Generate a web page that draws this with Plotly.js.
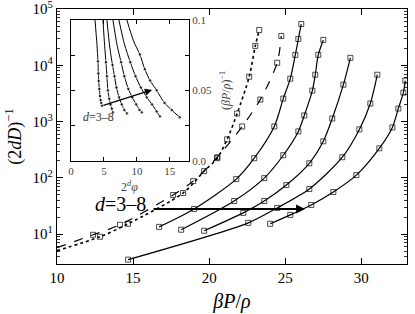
<!DOCTYPE html>
<html><head><meta charset="utf-8">
<script src="https://cdn.plot.ly/plotly-3.0.1.min.js"></script>
<style>html,body{margin:0;padding:0;background:#fff}#chart{width:415px;height:314px}</style>
</head><body><div id="chart"></div>
<script>
// ---- main panel: (2dD)^-1 vs betaP/rho ----
const d3DotX  = [10, 12.83, 14.67, 18.29, 19.67, 20.53, 21.18, 21.84, 22.63, 23.03, 23.29];
const d3DotY  = [5.1, 9.0, 15.3, 53.9, 132, 224, 485, 1396, 6290, 22200, 42600];
const d3DashX = [10, 12.37, 14.14, 17.63, 18.95, 20.53, 22.17, 23.36, 24.47, 24.74];
const d3DashY = [5.75, 9.75, 14.7, 49.7, 87.8, 233, 822, 2467, 11120, 33340];
const d4X = [16.71, 19.01, 21.78, 22.96, 24.28, 24.87, 25.33, 25.66, 25.86, 26.05];
const d4Y = [13.5, 28.1, 95.3, 224, 822, 2570, 5800, 15390, 29500, 54300];
const d5X = [18.16, 21.64, 23.62, 24.87, 25.86, 26.25, 26.78, 26.97, 27.17, 27.50];
const d5Y = [12.0, 38.9, 99.1, 253, 671, 1287, 3560, 6820, 15390, 28340];
const d6X = [19.67, 22.24, 23.62, 25.07, 26.58, 27.50, 28.09, 28.82, 29.28];
const d6Y = [11.5, 23.9, 38.9, 74.6, 182, 447, 1140, 4540, 13620];
const d7X = [14.67, 22.57, 24.47, 26.58, 28.75, 29.87, 30.59, 31.05];
const d7Y = [3.53, 15.9, 29.3, 63.4, 233, 728, 2098, 6820];
const d8X = [24.01, 25.33, 26.71, 28.16, 29.67, 31.18, 32.04, 32.43, 32.76, 32.89];
const d8Y = [15.3, 22.0, 33.1, 56.1, 112, 336, 790, 1710, 3280, 5350];

const xTicks = [10, 15, 20, 25, 30];
const yTickVals = [10, 100, 1000, 10000, 100000];
const yTickText = ['10<sup>1</sup>','10<sup>2</sup>','10<sup>3</sup>','10<sup>4</sup>','10<sup>5</sup>'];
const mainArrow = {fromX: 16.25, toX: 26.3, y: 28};
const mainLabel = {text: '<i>d</i>=3–8', x: 15.95, y: 34.4};

// ---- inset: (betaP/rho)^-1 vs 2^d phi ----
const in3X = [3.64, 3.94, 4.09, 4.15, 4.20, 4.30, 4.40, 4.50, 4.60, 4.70];
const in3Y = [0.100, 0.0825, 0.0706, 0.062, 0.0566, 0.051, 0.046, 0.043, 0.041, 0.039];
const in4X = [4.85, 5.10, 5.30, 5.45, 5.60, 5.80, 6.00, 6.20, 6.36];
const in4Y = [0.100, 0.082, 0.070, 0.060, 0.050, 0.044, 0.040, 0.037, 0.0343];
const in5X = [5.45, 5.90, 6.30, 6.60, 6.90, 7.30, 7.70, 8.10, 8.50];
const in5Y = [0.100, 0.080, 0.068, 0.060, 0.052, 0.045, 0.040, 0.036, 0.0336];
const in6X = [6.36, 7.00, 7.60, 8.10, 8.70, 9.30, 9.90, 10.40, 10.76];
const in6Y = [0.100, 0.082, 0.070, 0.060, 0.051, 0.045, 0.040, 0.036, 0.0343];
const in7X = [7.27, 8.10, 9.00, 9.80, 10.60, 11.50, 12.30, 13.00, 13.50];
const in7Y = [0.100, 0.083, 0.070, 0.060, 0.052, 0.045, 0.040, 0.035, 0.0315];
const in8X = [8.48, 9.50, 10.45, 11.20, 12.00, 13.00, 14.20, 15.30, 16.50];
const in8Y = [0.100, 0.085, 0.0755, 0.065, 0.057, 0.050, 0.041, 0.036, 0.0308];
const inXTicks = [0, 5, 10, 15];
const inYTickVals = [0, 0.025, 0.05, 0.075, 0.1];
const inYTickText = ['0.0', '', '0.05', '', '0.1'];
const inArrow = {fromX: 4.7, fromY: 0.039, toX: 12.3, toY: 0.0503};
const inLabel = {text: '<i>d</i>=3–8', x: 4.1, y: 0.0308};
const inXTitle = {text: '2<sup><i>d</i></sup><i>φ</i>', x: 8.95};

const SERIF = 'Liberation Serif, Times New Roman, serif';
const traces = [];
function mainTrace(x, y, dash, width, hideFirst) {
  return {x, y, xaxis: 'x', yaxis: 'y', mode: 'lines+markers', type: 'scatter',
    line: {color: '#000', width, dash, shape: 'spline', smoothing: 0.8},
    marker: {symbol: 'square-open', color: '#000', size: x.map((_, i) => (hideFirst && i === 0) ? 0 : 5), line: {width: 1, color: '#000'}},
    hoverinfo: 'skip'};
}
traces.push(mainTrace(d3DotX, d3DotY, 'dot', 1.6, true));
traces.push(mainTrace(d3DashX, d3DashY, 'dash', 1.2, true));
[[d4X,d4Y],[d5X,d5Y],[d6X,d6Y],[d7X,d7Y],[d8X,d8Y]].forEach(([x,y]) => traces.push(mainTrace(x, y, 'solid', 1.2, false)));

function insetTrace(x, y) {
  return {x, y, xaxis: 'x2', yaxis: 'y2', mode: 'lines+markers', type: 'scatter',
    line: {color: '#000', width: 1, shape: 'spline', smoothing: 0.8},
    marker: {symbol: 'circle', color: '#000', size: x.map((_, i) => i < 2 ? 0 : 3.5)},
    hoverinfo: 'skip'};
}
[[in3X,in3Y],[in4X,in4Y],[in5X,in5Y],[in6X,in6Y],[in7X,in7Y],[in8X,in8Y]].forEach(([x,y]) => traces.push(insetTrace(x, y)));

const minorVals = [];
for (let e = 0; e <= 4; e++) for (let m = 2; m <= 9; m++) minorVals.push(m * Math.pow(10, e));

const layout = {
  width: 415, height: 314,
  margin: {l: 57, r: 8, t: 9, b: 50, pad: 0},
  paper_bgcolor: '#fff', plot_bgcolor: '#fff',
  showlegend: false,
  font: {family: SERIF, color: '#000', size: 15},
  xaxis: {domain: [0, 1], range: [10, 33], tickmode: 'array', tickvals: xTicks,
    ticks: 'inside', ticklen: 6, tickwidth: 1, tickcolor: '#000', ticklabeloverflow: 'allow',
    showline: true, mirror: 'ticks', linecolor: '#000', linewidth: 1.2,
    showgrid: false, zeroline: false, tickfont: {size: 15, family: SERIF},
    title: {text: '<i>βP</i>/<i>ρ</i>', font: {size: 20, family: SERIF}, standoff: 8}},
  yaxis: {domain: [0, 1], type: 'log', range: [0.47, 5.002], tickmode: 'array', tickvals: yTickVals, ticktext: yTickText,
    ticks: 'inside', ticklen: 6, tickwidth: 1, tickcolor: '#000', ticklabeloverflow: 'allow',
    minor: {tickmode: 'array', tickvals: minorVals, ticks: 'inside', ticklen: 3, tickwidth: 0.8, tickcolor: '#000', showgrid: false},
    showline: true, mirror: 'ticks', linecolor: '#000', linewidth: 1.2,
    showgrid: false, zeroline: false, tickfont: {size: 15, family: SERIF},
    title: {text: '(2<i>dD</i>)<sup>−1</sup>', font: {size: 18, family: SERIF}, standoff: 6}},
  xaxis2: {domain: [0.04, 0.377], anchor: 'y2', range: [0, 17.9], tickmode: 'array', tickvals: inXTicks,
    ticks: 'inside', ticklen: 4, tickwidth: 1, tickcolor: '#000',
    showline: true, mirror: 'ticks', linecolor: '#000', linewidth: 1.2,
    showgrid: false, zeroline: false, tickfont: {size: 11, family: SERIF, color: '#444'}},
  yaxis2: {domain: [0.405, 0.957], anchor: 'x2', side: 'right', range: [0, 0.1], tickmode: 'array',
    tickvals: inYTickVals, ticktext: inYTickText,
    ticks: 'inside', ticklen: 4, tickwidth: 1, tickcolor: '#000',
    showline: true, mirror: 'ticks', linecolor: '#000', linewidth: 1.2,
    showgrid: false, zeroline: false, tickfont: {size: 11, family: SERIF, color: '#444'},
    title: {text: '(<i>βP</i>/<i>ρ</i>)<sup>−1</sup>', font: {size: 12, family: SERIF, color: '#444'}, standoff: 10}},
  annotations: [
    {xref: 'x', yref: 'y', axref: 'x', ayref: 'y', x: mainArrow.toX, y: Math.log10(mainArrow.y),
     ax: mainArrow.fromX, ay: Math.log10(mainArrow.y), text: '', showarrow: true,
     arrowhead: 2, arrowsize: 0.9, arrowwidth: 2, arrowcolor: '#000', standoff: 0, startstandoff: 0},
    {xref: 'x', yref: 'y', x: mainLabel.x, y: Math.log10(mainLabel.y), text: mainLabel.text, showarrow: false,
     xanchor: 'right', yanchor: 'middle', font: {size: 20, family: SERIF, color: '#000'}},
    {xref: 'x2', yref: 'y2', axref: 'x2', ayref: 'y2', x: inArrow.toX, y: inArrow.toY,
     ax: inArrow.fromX, ay: inArrow.fromY, text: '', showarrow: true,
     arrowhead: 2, arrowsize: 1.1, arrowwidth: 1.3, arrowcolor: '#000', standoff: 0, startstandoff: 0},
    {xref: 'x2', yref: 'y2', x: inLabel.x, y: inLabel.y, text: inLabel.text, showarrow: false,
     xanchor: 'center', yanchor: 'middle', font: {size: 12, family: SERIF, color: '#333'}},
    {xref: 'x2', yref: 'paper', x: inXTitle.x, y: 0.303, text: inXTitle.text, showarrow: false,
     xanchor: 'center', yanchor: 'middle', font: {size: 12, family: SERIF, color: '#444'}}
  ]
};

Plotly.newPlot('chart', traces, layout, {staticPlot: true, displayModeBar: false});
</script></body></html>
